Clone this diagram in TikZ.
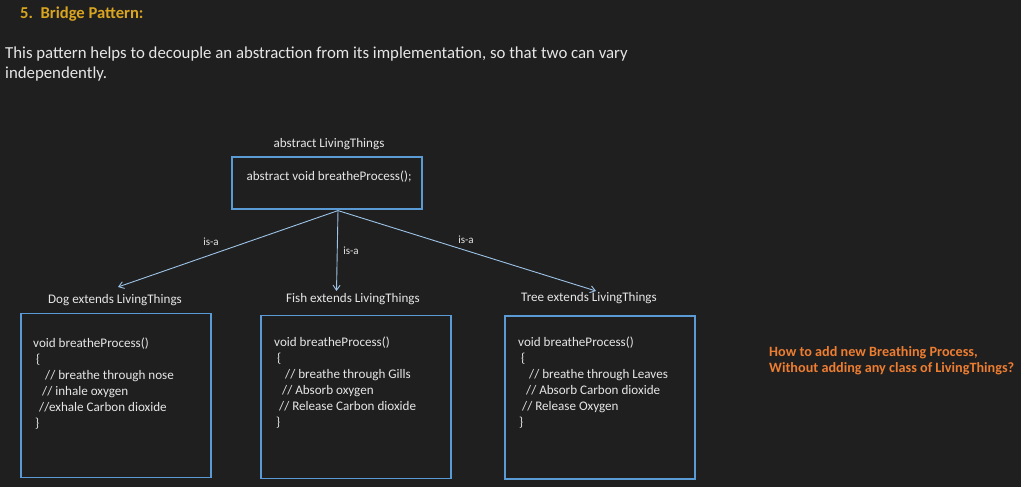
\documentclass[tikz,border=0pt]{standalone}
\usepackage{fontspec}
\setmainfont{Carlito}
\usepackage{tikz}
\usetikzlibrary{arrows.meta}

\definecolor{bg}{HTML}{1F1F1F}
\definecolor{ink}{HTML}{E6E6E6}
\definecolor{frame}{HTML}{5B9BD5}
\definecolor{link}{HTML}{9DC3E6}
\definecolor{gold}{HTML}{D9A520}
\definecolor{note}{HTML}{ED7D31}

\begin{document}
\begin{tikzpicture}[x=1pt,y=-1pt,
    every node/.style={text=ink,inner sep=0pt,font=\fontsize{13.1}{16}\selectfont},
    classbox/.style={draw=frame,line width=1.2pt,minimum width=190pt},
    code/.style={anchor=north west,align=left},
    isa/.style={draw=link,line width=0.9pt,-{Straight Barb[length=5pt,width=7pt]}},
    lbl/.style={font=\fontsize{11}{12}\selectfont}]
  \fill[bg] (0,0) rectangle (1021,487);
  \useasboundingbox (0,0) rectangle (1021,487);

  % heading
  \node[anchor=base west,text=gold,font=\fontsize{16.6}{19}\bfseries] (title) at (20,18.3) {5.\ \ Bridge Pattern:};
  \node[anchor=north west,align=left,font=\fontsize{16.8}{19.5}\selectfont] (intro) at (5,47)
    {This pattern helps to decouple an abstraction from its implementation, so that two can vary\\independently.};

  % abstraction
  \node (toplbl) at (329,144) {abstract LivingThings};
  \node[classbox,minimum height=52pt] (top) at (327,183) {};
  \node (topcode) at (329,177) {abstract void breatheProcess();};

  % implementations
  \node (doglbl) at (115,300) {Dog extends LivingThings};
  \node (fishlbl) at (353,299) {Fish extends LivingThings};
  \node (treelbl) at (589,298) {Tree extends LivingThings};
  \node[classbox,minimum height=164pt] (dog) at (116,395.5) {};
  \node[classbox,minimum height=163pt] (fish) at (356,397) {};
  \node[classbox,minimum height=163pt] (tree) at (600,397.5) {};

  \node[code] (dogcode) at (33,338) {void breatheProcess()\\
    \hspace*{3pt}\{\\
    \hspace*{12pt}// breathe through nose\\
    \hspace*{9pt}// inhale oxygen\\
    \hspace*{6pt}//exhale Carbon dioxide\\
    \hspace*{2pt}\}};
  \node[code] (fishcode) at (274,337) {void breatheProcess()\\
    \hspace*{3pt}\{\\
    \hspace*{11pt}// breathe through Gills\\
    \hspace*{8pt}// Absorb oxygen\\
    \hspace*{5pt}// Release Carbon dioxide\\
    \hspace*{2pt}\}};
  \node[code] (treecode) at (518,337) {void breatheProcess()\\
    \hspace*{3pt}\{\\
    \hspace*{11pt}// breathe through Leaves\\
    \hspace*{8pt}// Absorb Carbon dioxide\\
    \hspace*{4pt}// Release Oxygen\\
    \hspace*{1pt}\}};

  % is-a links
  \coordinate (apex) at ([xshift=11pt,yshift=-1pt]top.south);
  \coordinate (dogtip) at (118,287);
  \coordinate (fishtip) at (336.5,291);
  \coordinate (treetip) at (596,291);
  \foreach \tip in {dogtip,fishtip,treetip}
    \draw[isa] (apex) -- (\tip);
  \node[lbl] (isa1) at (211,242) {is-a};
  \node[lbl] (isa2) at (351,251) {is-a};
  \node[lbl] (isa3) at (466,240) {is-a};

  % question
  \node[anchor=north west,align=left,text=note,font=\fontsize{14.2}{16}\bfseries] (question) at (769,346)
    {How to add new Breathing Process,\\Without adding any class of LivingThings?};
\end{tikzpicture}
\end{document}
